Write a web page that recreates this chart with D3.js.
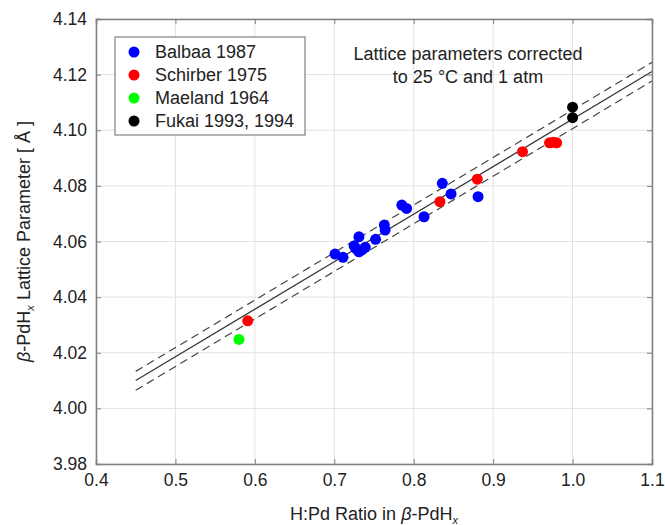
<!DOCTYPE html>
<html>
<head>
<meta charset="utf-8">
<script src="https://cdn.jsdelivr.net/npm/d3@7"></script>
<style>
  body { margin: 0; background: #fff; }
  svg { font-family: "Liberation Sans", Arial, sans-serif; }
</style>
</head>
<body>
<div id="chart"></div>
<script>
// ── data ──
const balbaaX = [0.701, 0.711, 0.725, 0.731, 0.731, 0.739, 0.727, 0.735, 0.752, 0.763, 0.764, 0.785, 0.791, 0.813, 0.836, 0.847, 0.881];
const balbaaY = [4.0555, 4.0543, 4.0584, 4.0617, 4.0563, 4.0579, 4.0575, 4.0570, 4.0608, 4.0659, 4.0641, 4.0731, 4.0719, 4.0689, 4.0809, 4.0771, 4.0761];
const schirberX = [0.591, 0.833, 0.880, 0.937, 0.971, 0.976, 0.980];
const schirberY = [4.0315, 4.0743, 4.0824, 4.0923, 4.0955, 4.0957, 4.0955];
const maelandX = [0.580];
const maelandY = [4.0248];
const fukaiX = [1.000, 1.000];
const fukaiY = [4.1083, 4.1045];

const fitX = [0.45, 1.10];
const fitY = [4.0100, 4.1211];
const upperY = [4.0133, 4.1244];
const lowerY = [4.0065, 4.1177];

const xTicks = [0.4, 0.5, 0.6, 0.7, 0.8, 0.9, 1.0, 1.1];
const yTicks = [3.98, 4.00, 4.02, 4.04, 4.06, 4.08, 4.10, 4.12, 4.14];

const seriesNames = ["Balbaa 1987", "Schirber 1975", "Maeland 1964", "Fukai 1993, 1994"];
const seriesColors = ["#0000ff", "#ff0000", "#00ff00", "#000000"];

const W = 665, H = 525;
const margin = { top: 19, right: 13, bottom: 61, left: 96 };
const w = W - margin.left - margin.right;
const h = H - margin.top - margin.bottom;

const svg = d3.select("#chart").append("svg")
  .attr("width", W).attr("height", H);
const g = svg.append("g").attr("transform", `translate(${margin.left},${margin.top})`);

const x = d3.scaleLinear().domain([0.4, 1.1]).range([0, w]);
const y = d3.scaleLinear().domain([3.98, 4.14]).range([h, 0]);

// grid
g.append("g").selectAll("line").data(xTicks).join("line")
  .attr("x1", d => x(d)).attr("x2", d => x(d)).attr("y1", 0).attr("y2", h)
  .attr("stroke", "#e2e2e2");
g.append("g").selectAll("line").data(yTicks).join("line")
  .attr("y1", d => y(d)).attr("y2", d => y(d)).attr("x1", 0).attr("x2", w)
  .attr("stroke", "#e2e2e2");

// fit lines
const line = d3.line().x(d => x(d[0])).y(d => y(d[1]));
g.append("path").datum(fitX.map((v, i) => [v, fitY[i]]))
  .attr("d", line).attr("fill", "none").attr("stroke", "#333").attr("stroke-width", 1.2);
[upperY, lowerY].forEach(arr => {
  g.append("path").datum(fitX.map((v, i) => [v, arr[i]]))
    .attr("d", line).attr("fill", "none").attr("stroke", "#444")
    .attr("stroke-width", 1.2).attr("stroke-dasharray", "8,5");
});

// points
const series = [[balbaaX, balbaaY], [schirberX, schirberY], [maelandX, maelandY], [fukaiX, fukaiY]];
series.forEach(([xs, ys], k) => {
  g.append("g").selectAll("circle").data(xs.map((v, i) => [v, ys[i]])).join("circle")
    .attr("cx", d => x(d[0])).attr("cy", d => y(d[1])).attr("r", 5.5)
    .attr("fill", seriesColors[k]);
});

// axes (box with inward ticks)
const axisColor = "#808080";
const xb = g.append("g").attr("transform", `translate(0,${h})`)
  .call(d3.axisBottom(x).tickValues(xTicks).tickSize(-5).tickPadding(10).tickFormat(d3.format(".1f")));
const xt = g.append("g")
  .call(d3.axisTop(x).tickValues(xTicks).tickSize(-5).tickFormat(""));
const yl = g.append("g")
  .call(d3.axisLeft(y).tickValues(yTicks).tickSize(-5).tickPadding(9).tickFormat(d3.format(".2f")));
const yr = g.append("g").attr("transform", `translate(${w},0)`)
  .call(d3.axisRight(y).tickValues(yTicks).tickSize(-5).tickFormat(""));
[xb, xt, yl, yr].forEach(a => {
  a.select(".domain").attr("stroke", axisColor).attr("stroke-width", 1.5);
  a.selectAll(".tick line").attr("stroke", axisColor);
  a.selectAll(".tick text").attr("fill", "#222").style("font-size", "17.5px");
});

// axis titles
const xTitle = svg.append("text")
  .attr("x", margin.left + w / 2).attr("y", 520)
  .attr("text-anchor", "middle").attr("fill", "#222").style("font-size", "18px");
xTitle.append("tspan").text("H:Pd Ratio in ");
xTitle.append("tspan").attr("font-style", "italic").text("β");
xTitle.append("tspan").text("-PdH");
xTitle.append("tspan").attr("font-style", "italic").attr("font-size", "11px").attr("dy", 4).text("x");

const yTitle = svg.append("text")
  .attr("transform", `translate(30,${margin.top + h / 2}) rotate(-90)`)
  .attr("text-anchor", "middle").attr("fill", "#222").style("font-size", "18px");
yTitle.append("tspan").attr("font-style", "italic").text("β");
yTitle.append("tspan").text("-PdH");
yTitle.append("tspan").attr("font-style", "italic").attr("font-size", "11px").attr("dy", 4).text("x");
yTitle.append("tspan").attr("dy", -4).text(" Lattice Parameter [ Å ]");

// annotation
const note = svg.append("text").attr("text-anchor", "middle").attr("fill", "#222").style("font-size", "18px");
note.append("tspan").attr("x", 468).attr("y", 60).text("Lattice parameters corrected");
note.append("tspan").attr("x", 468).attr("y", 83).text("to 25 °C and 1 atm");

// legend
const lg = svg.append("g").attr("transform", "translate(115,37)");
lg.append("rect").attr("width", 190).attr("height", 98)
  .attr("fill", "#fff").attr("stroke", "#808080").attr("stroke-width", 1.2);
seriesNames.forEach((name, i) => {
  const row = lg.append("g").attr("transform", `translate(0,${15 + i * 23})`);
  row.append("circle").attr("cx", 19).attr("cy", 0).attr("r", 5.5).attr("fill", seriesColors[i]);
  row.append("text").attr("x", 40).attr("y", 6).attr("fill", "#222")
    .style("font-size", "18px").text(name);
});
</script>
</body>
</html>
